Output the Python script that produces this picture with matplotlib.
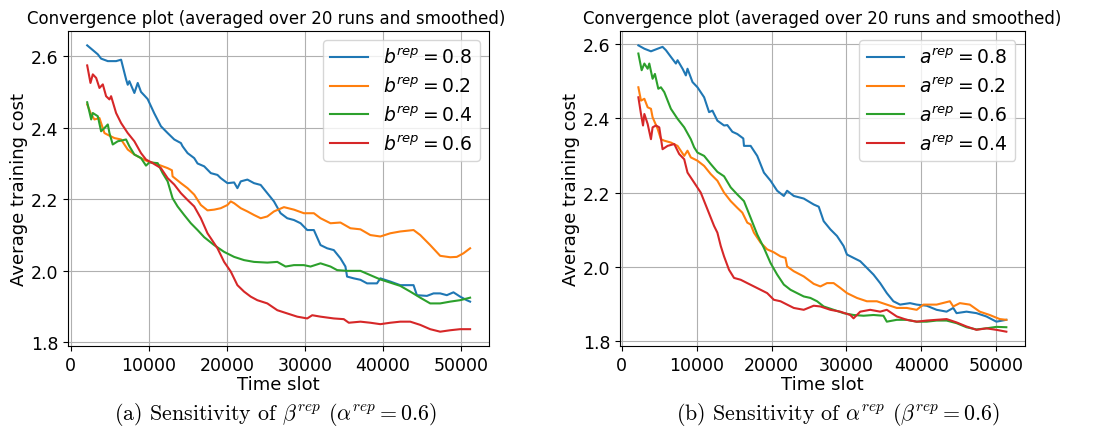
import numpy as np
import matplotlib
matplotlib.use('Agg')
import matplotlib.pyplot as plt

plt.rcParams['mathtext.fontset'] = 'dejavusans'

# ---------------- (a) sensitivity of beta^rep ----------------
a_labels = [r'$b^{rep}=0.8$', r'$b^{rep}=0.2$', r'$b^{rep}=0.4$', r'$b^{rep}=0.6$']

a_x_08 = [2.13, 3.49, 3.91, 4.77, 5.83, 6.47, 7.11, 7.32, 7.53, 8.17, 8.60, 9.02, 9.45, 9.87,
          10.72, 11.57, 12.43, 13.28, 14.13, 14.34, 14.98, 15.83, 16.26, 17.11, 17.96, 18.81,
          19.23, 20.09, 20.94, 21.36, 21.79, 22.64, 23.49, 24.34, 25.19, 26.04, 26.89, 27.74,
          28.60, 29.45, 30.30, 31.15, 32.00, 32.85, 33.70, 34.55, 35.19, 35.40, 36.26, 37.11,
          37.96, 39.23, 39.66, 40.94, 42.21, 43.91, 44.34, 45.62, 46.47, 47.32, 48.17, 49.02,
          49.87, 50.72, 51.15]
a_y_08 = [2.630, 2.605, 2.593, 2.586, 2.586, 2.590, 2.535, 2.520, 2.530, 2.497, 2.525, 2.500,
          2.490, 2.480, 2.440, 2.404, 2.385, 2.367, 2.357, 2.348, 2.329, 2.315, 2.300, 2.292,
          2.273, 2.268, 2.259, 2.245, 2.247, 2.231, 2.250, 2.255, 2.245, 2.240, 2.217, 2.194,
          2.161, 2.147, 2.142, 2.133, 2.114, 2.114, 2.072, 2.063, 2.058, 2.035, 2.012, 1.984,
          1.979, 1.975, 1.965, 1.965, 1.979, 1.970, 1.960, 1.960, 1.932, 1.930, 1.937, 1.937,
          1.932, 1.940, 1.928, 1.918, 1.914]

a_x_02 = [2.13, 2.64, 3.06, 3.70, 3.91, 4.34, 4.77, 5.62, 6.47, 7.32, 8.17, 9.02, 9.87, 10.72,
          11.57, 12.43, 12.98, 13.06, 14.13, 14.98, 15.83, 16.68, 17.53, 18.38, 19.23, 20.09,
          20.51, 20.94, 21.79, 22.64, 23.49, 24.34, 25.19, 26.04, 27.32, 28.60, 29.87, 31.15,
          32.00, 33.28, 34.55, 35.83, 37.11, 38.38, 39.66, 40.94, 42.21, 43.91, 44.77, 46.04,
          47.32, 48.60, 49.45, 50.30, 51.15]
a_y_02 = [2.465, 2.437, 2.423, 2.427, 2.413, 2.385, 2.380, 2.371, 2.367, 2.339, 2.325, 2.315,
          2.306, 2.301, 2.294, 2.287, 2.281, 2.264, 2.245, 2.231, 2.213, 2.184, 2.169, 2.171,
          2.175, 2.184, 2.194, 2.189, 2.175, 2.166, 2.156, 2.147, 2.152, 2.166, 2.178, 2.171,
          2.161, 2.161, 2.147, 2.133, 2.135, 2.119, 2.116, 2.100, 2.096, 2.105, 2.110, 2.114,
          2.100, 2.072, 2.042, 2.038, 2.039, 2.049, 2.063]

a_x_04 = [2.13, 2.64, 2.85, 3.49, 3.91, 4.34, 4.77, 4.98, 5.40, 6.04, 7.11, 7.53, 8.17, 9.02,
          9.66, 10.09, 11.15, 11.79, 12.43, 13.06, 13.70, 14.55, 15.40, 16.26, 17.11, 18.38,
          19.66, 20.94, 22.21, 23.49, 25.19, 26.47, 27.53, 28.60, 29.87, 30.72, 32.00, 33.28,
          34.13, 35.40, 37.11, 38.38, 39.66, 40.94, 42.21, 43.49, 44.77, 46.04, 47.32, 48.60,
          49.87, 51.15]
a_y_04 = [2.471, 2.423, 2.441, 2.432, 2.390, 2.399, 2.409, 2.385, 2.353, 2.362, 2.367, 2.348,
          2.325, 2.315, 2.294, 2.303, 2.301, 2.273, 2.250, 2.203, 2.180, 2.156, 2.133, 2.114,
          2.094, 2.072, 2.053, 2.039, 2.030, 2.025, 2.023, 2.025, 2.012, 2.016, 2.016, 2.012,
          2.021, 2.012, 2.002, 2.000, 2.000, 1.988, 1.976, 1.967, 1.958, 1.942, 1.925, 1.909,
          1.909, 1.914, 1.918, 1.925]

a_x_06 = [2.13, 2.55, 2.85, 3.28, 3.70, 4.13, 4.55, 4.98, 5.19, 5.83, 6.47, 7.32, 8.17, 9.02,
          9.66, 10.51, 11.57, 12.43, 13.28, 14.13, 14.98, 15.83, 16.68, 17.53, 17.96, 18.81,
          19.66, 20.51, 21.36, 22.21, 23.06, 23.91, 25.19, 26.47, 27.74, 29.02, 30.30, 30.94,
          32.00, 33.70, 34.98, 35.62, 37.11, 38.38, 39.66, 40.94, 42.21, 43.49, 44.77, 46.04,
          47.32, 48.60, 49.87, 51.15]
a_y_06 = [2.574, 2.525, 2.549, 2.539, 2.511, 2.521, 2.488, 2.479, 2.488, 2.441, 2.413, 2.385,
          2.362, 2.329, 2.311, 2.301, 2.287, 2.259, 2.241, 2.217, 2.198, 2.180, 2.147, 2.105,
          2.091, 2.063, 2.025, 1.998, 1.960, 1.942, 1.928, 1.918, 1.909, 1.890, 1.881, 1.872,
          1.867, 1.876, 1.872, 1.867, 1.865, 1.855, 1.858, 1.855, 1.851, 1.855, 1.858, 1.858,
          1.849, 1.837, 1.830, 1.834, 1.837, 1.837]

# ---------------- (b) sensitivity of alpha^rep ----------------
b_labels = [r'$a^{rep}=0.8$', r'$a^{rep}=0.2$', r'$a^{rep}=0.6$', r'$a^{rep}=0.4$']

b_x_08 = [2.22, 3.02, 3.90, 4.79, 5.45, 5.90, 6.56, 7.23, 7.45, 8.12, 8.56, 8.78, 9.45, 10.11,
          11.00, 11.66, 12.11, 12.77, 13.66, 14.10, 14.77, 15.43, 16.23, 16.32, 17.21, 18.09,
          18.98, 19.87, 20.75, 21.64, 22.08, 22.97, 24.30, 25.63, 26.30, 26.96, 27.85, 28.74,
          29.62, 30.07, 30.95, 31.84, 32.73, 33.61, 34.50, 35.39, 36.27, 37.16, 38.49, 39.38,
          40.71, 42.04, 43.37, 44.26, 44.70, 46.03, 47.36, 48.69, 50.02, 51.35]
b_y_08 = [2.597, 2.588, 2.581, 2.588, 2.593, 2.584, 2.566, 2.548, 2.557, 2.534, 2.516, 2.534,
          2.498, 2.484, 2.457, 2.417, 2.421, 2.394, 2.381, 2.382, 2.364, 2.358, 2.346, 2.326,
          2.326, 2.299, 2.254, 2.232, 2.205, 2.191, 2.205, 2.191, 2.184, 2.168, 2.162, 2.123,
          2.101, 2.083, 2.056, 2.033, 2.024, 2.015, 1.997, 1.979, 1.956, 1.929, 1.907, 1.898,
          1.902, 1.898, 1.895, 1.884, 1.879, 1.889, 1.875, 1.879, 1.875, 1.866, 1.852, 1.857]

b_x_02 = [2.22, 2.57, 3.02, 3.46, 3.90, 4.12, 4.79, 5.23, 5.68, 6.56, 7.45, 8.34, 8.78, 9.22,
          10.11, 11.00, 11.88, 12.77, 13.66, 14.55, 15.43, 16.10, 16.76, 17.21, 17.65, 18.54,
          19.42, 20.31, 21.20, 21.86, 22.08, 22.97, 24.30, 25.63, 26.52, 27.41, 28.29, 29.18,
          30.07, 31.40, 32.73, 34.06, 35.39, 36.72, 38.05, 39.38, 40.27, 42.04, 43.81, 44.26,
          45.14, 46.47, 47.80, 49.13, 50.47, 51.35]
b_y_02 = [2.484, 2.448, 2.453, 2.430, 2.426, 2.403, 2.372, 2.344, 2.340, 2.335, 2.326, 2.299,
          2.313, 2.295, 2.286, 2.272, 2.250, 2.232, 2.200, 2.177, 2.159, 2.146, 2.119, 2.114,
          2.092, 2.065, 2.047, 2.039, 2.028, 2.024, 2.001, 1.988, 1.974, 1.954, 1.947, 1.956,
          1.956, 1.943, 1.929, 1.916, 1.907, 1.907, 1.898, 1.889, 1.889, 1.884, 1.898, 1.898,
          1.907, 1.893, 1.902, 1.898, 1.879, 1.870, 1.859, 1.857]

b_x_06 = [2.22, 2.66, 3.02, 3.46, 3.68, 4.12, 4.43, 4.88, 5.23, 5.68, 6.56, 7.45, 8.34, 9.22,
          9.67, 10.11, 11.00, 11.88, 12.77, 13.66, 14.55, 15.43, 16.32, 17.21, 18.09, 18.98,
          19.87, 20.75, 21.64, 22.53, 23.41, 24.30, 25.19, 26.08, 26.96, 28.29, 29.62, 30.95,
          32.28, 33.61, 34.94, 35.39, 36.72, 38.05, 39.38, 40.71, 42.04, 43.37, 44.70, 46.03,
          47.36, 48.69, 50.02, 51.35]
b_y_06 = [2.575, 2.530, 2.548, 2.534, 2.548, 2.507, 2.520, 2.480, 2.484, 2.471, 2.426, 2.399,
          2.376, 2.344, 2.322, 2.308, 2.299, 2.277, 2.256, 2.244, 2.214, 2.195, 2.177, 2.132,
          2.087, 2.051, 2.010, 1.979, 1.952, 1.938, 1.929, 1.920, 1.916, 1.907, 1.893, 1.884,
          1.875, 1.870, 1.868, 1.870, 1.868, 1.852, 1.857, 1.857, 1.852, 1.852, 1.855, 1.855,
          1.848, 1.837, 1.831, 1.834, 1.838, 1.837]

b_x_04 = [2.22, 2.57, 2.84, 3.02, 3.46, 3.90, 4.12, 4.57, 5.01, 5.45, 6.12, 7.01, 7.67, 8.34,
          8.78, 9.67, 10.55, 11.44, 12.33, 12.77, 13.22, 13.66, 14.32, 14.99, 15.88, 16.76,
          17.65, 18.54, 19.42, 20.31, 21.20, 22.08, 22.97, 24.30, 25.63, 26.52, 27.85, 29.18,
          30.51, 30.95, 31.84, 33.17, 34.50, 35.39, 36.72, 38.05, 39.38, 40.71, 42.04, 43.37,
          44.70, 46.03, 47.36, 48.69, 50.02, 51.35]
b_y_04 = [2.457, 2.412, 2.381, 2.412, 2.385, 2.344, 2.376, 2.381, 2.376, 2.317, 2.326, 2.331,
          2.304, 2.290, 2.254, 2.227, 2.200, 2.155, 2.110, 2.092, 2.056, 2.028, 1.992, 1.970,
          1.965, 1.956, 1.947, 1.938, 1.929, 1.911, 1.907, 1.898, 1.889, 1.884, 1.895, 1.893,
          1.884, 1.879, 1.870, 1.861, 1.879, 1.884, 1.879, 1.884, 1.866, 1.857, 1.852, 1.855,
          1.857, 1.859, 1.850, 1.839, 1.830, 1.834, 1.830, 1.825]

fig = plt.figure(figsize=(10.94, 4.35), dpi=100)
ax1 = fig.add_axes([0.0622, 0.2023, 0.385, 0.724])
ax2 = fig.add_axes([0.5667, 0.2023, 0.370, 0.724])

panels = [
    (ax1, a_labels, [(a_x_08, a_y_08), (a_x_02, a_y_02), (a_x_04, a_y_04), (a_x_06, a_y_06)], 0.47),
    (ax2, b_labels, [(b_x_08, b_y_08), (b_x_02, b_y_02), (b_x_06, b_y_06), (b_x_04, b_y_04)], 0.5),
]
colors = ['tab:blue', 'tab:orange', 'tab:green', 'tab:red']

for ax, labels, series, tx in panels:
    for (xs, ys), lab, c in zip(series, labels, colors):
        ax.plot(np.array(xs) * 1000, ys, color=c, lw=1.5, label=lab)
    ax.grid(True)
    ax.set_title('Convergence plot (averaged over 20 runs and smoothed)', fontsize=12, x=tx)
    ax.set_xlabel('Time slot', fontsize=13, labelpad=1)
    ax.set_ylabel('Average training cost', fontsize=13, labelpad=2)
    ax.tick_params(labelsize=12.5)
    ax.set_xticks([0, 10000, 20000, 30000, 40000, 50000])
    ax.set_yticks([1.8, 2.0, 2.2, 2.4, 2.6])
    ax.legend(loc='upper right', fontsize=13.5)

fig.text(0.252, 0.046, r'(a) Sensitivity of $\beta^{rep}$ ($\alpha^{rep}=0.6$)',
         ha='center', va='center', fontsize=15.8, family='cmr10', math_fontfamily='cm')
fig.text(0.766, 0.046, r'(b) Sensitivity of $\alpha^{rep}$ ($\beta^{rep}=0.6$)',
         ha='center', va='center', fontsize=15.8, family='cmr10', math_fontfamily='cm')

fig.savefig('out.png', dpi=100)
